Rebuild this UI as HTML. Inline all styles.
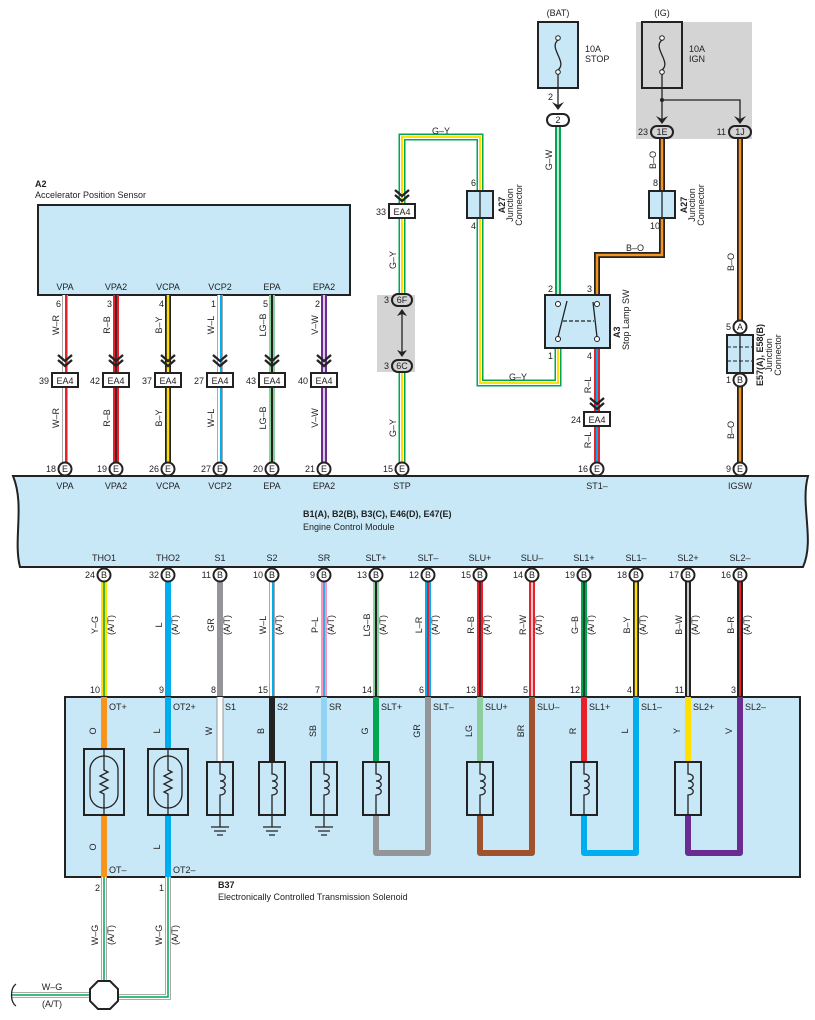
<!DOCTYPE html>
<html><head><meta charset="utf-8">
<style>
html,body{margin:0;padding:0;background:#fff}
svg{display:block}
text{font-family:"Liberation Sans",sans-serif;font-size:9px;fill:#222}
.b{font-weight:bold}
.m{text-anchor:middle}
.e{text-anchor:end}
.box{fill:#c8e8f8;stroke:#222;stroke-width:2}
.ln{fill:none;stroke:#222;stroke-width:1.3}
.w{fill:none;stroke-linejoin:miter}
</style></head><body>
<svg width="815" height="1020" viewBox="0 0 815 1020" xmlns="http://www.w3.org/2000/svg">
<!-- gray regions -->
<rect x="636" y="22" width="116" height="117" fill="#d4d4d4"/>
<rect x="377" y="295" width="38" height="77" fill="#d4d4d4"/>

<!-- A2 -->
<text x="35" y="187" class="b">A2</text>
<text x="35" y="198">Accelerator Position Sensor</text>
<rect x="38" y="205" width="312" height="90" class="box"/>

<!-- top column wires -->
<g class="w">
<path d="M65,295V469" stroke="#aaa" stroke-width="6"/><path d="M65,295V469" stroke="#fff" stroke-width="4"/><path d="M66,295V469" stroke="#e8202a" stroke-width="2"/>
<path d="M116,295V469" stroke="#e8202a" stroke-width="6"/><path d="M116,295V469" stroke="#222" stroke-width="1.5"/>
<path d="M168,295V469" stroke="#222" stroke-width="6"/><path d="M168,295V469" stroke="#ffe000" stroke-width="2.5"/>
<path d="M220,295V469" stroke="#aaa" stroke-width="6"/><path d="M220,295V469" stroke="#fff" stroke-width="4"/><path d="M221,295V469" stroke="#00aeef" stroke-width="2"/>
<path d="M272,295V469" stroke="#8ccf9c" stroke-width="6"/><path d="M272,295V469" stroke="#222" stroke-width="2"/>
<path d="M324,295V469" stroke="#6b2c91" stroke-width="6"/><path d="M324,295V469" stroke="#fff" stroke-width="1.5"/>
<!-- G-Y -->
<path d="M558,348V383H480V137H402V295M402,372V469" stroke="#00a651" stroke-width="7"/>
<path d="M558,348V383H480V137H402V295M402,372V469" stroke="#fff" stroke-width="4"/>
<path d="M558,348V383H480V137H402V295M402,372V469" stroke="#ffe000" stroke-width="2"/>
<!-- G-W -->
<path d="M558,126V295" stroke="#00a651" stroke-width="6"/><path d="M558,126V295" stroke="#fff" stroke-width="1.5"/>
<!-- B-O -->
<path d="M662,138V255H597V295" stroke="#222" stroke-width="6"/><path d="M662,138V255H597V295" stroke="#f7941d" stroke-width="2.5"/>
<path d="M740,138V469" stroke="#222" stroke-width="6"/><path d="M740,138V469" stroke="#f7941d" stroke-width="2.5"/>
<!-- R-L -->
<path d="M597,348V469" stroke="#e8202a" stroke-width="6"/><path d="M597,348V469" stroke="#00aeef" stroke-width="2"/>
</g>

<!-- top labels on A2 -->
<g class="m">
<text x="65" y="290">VPA</text><text x="116" y="290">VPA2</text><text x="168" y="290">VCPA</text><text x="220" y="290">VCP2</text><text x="272" y="290">EPA</text><text x="324" y="290">EPA2</text>
</g>
<g class="e">
<text x="61" y="307">6</text><text x="112" y="307">3</text><text x="164" y="307">4</text><text x="216" y="307">1</text><text x="268" y="307">5</text><text x="320" y="307">2</text>
</g>
<g class="m">
<text transform="translate(59,325) rotate(-90)">W–R</text>
<text transform="translate(110,325) rotate(-90)">R–B</text>
<text transform="translate(162,325) rotate(-90)">B–Y</text>
<text transform="translate(214,325) rotate(-90)">W–L</text>
<text transform="translate(266,325) rotate(-90)">LG–B</text>
<text transform="translate(318,325) rotate(-90)">V–W</text>
<text transform="translate(59,418) rotate(-90)">W–R</text>
<text transform="translate(110,418) rotate(-90)">R–B</text>
<text transform="translate(162,418) rotate(-90)">B–Y</text>
<text transform="translate(214,418) rotate(-90)">W–L</text>
<text transform="translate(266,418) rotate(-90)">LG–B</text>
<text transform="translate(318,418) rotate(-90)">V–W</text>
<text transform="translate(396,260) rotate(-90)">G–Y</text>
<text transform="translate(396,428) rotate(-90)">G–Y</text>
<text transform="translate(552,160) rotate(-90)">G–W</text>
<text transform="translate(656,160) rotate(-90)">B–O</text>
<text transform="translate(734,262) rotate(-90)">B–O</text>
<text transform="translate(734,430) rotate(-90)">B–O</text>
<text transform="translate(591,385) rotate(-90)">R–L</text>
<text transform="translate(591,440) rotate(-90)">R–L</text>
</g>
<text x="441" y="134" class="m">G–Y</text>
<text x="518" y="380" class="m">G–Y</text>
<text x="635" y="251" class="m">B–O</text>

<!-- chevrons -->
<g fill="none" stroke="#222" stroke-width="2.3">
<path d="M58,355l7,6l7,-6M58,360l7,6l7,-6"/>
<path d="M109,355l7,6l7,-6M109,360l7,6l7,-6"/>
<path d="M161,355l7,6l7,-6M161,360l7,6l7,-6"/>
<path d="M213,355l7,6l7,-6M213,360l7,6l7,-6"/>
<path d="M265,355l7,6l7,-6M265,360l7,6l7,-6"/>
<path d="M317,355l7,6l7,-6M317,360l7,6l7,-6"/>
<path d="M395,190l7,6l7,-6M395,195l7,6l7,-6"/>
<path d="M590,398l7,6l7,-6M590,403l7,6l7,-6"/>
</g>
<!-- EA4 boxes -->
<g>
<rect x="52" y="373" width="26" height="14" fill="#fff" stroke="#222" stroke-width="2"/>
<rect x="103" y="373" width="26" height="14" fill="#fff" stroke="#222" stroke-width="2"/>
<rect x="155" y="373" width="26" height="14" fill="#fff" stroke="#222" stroke-width="2"/>
<rect x="207" y="373" width="26" height="14" fill="#fff" stroke="#222" stroke-width="2"/>
<rect x="259" y="373" width="26" height="14" fill="#fff" stroke="#222" stroke-width="2"/>
<rect x="311" y="373" width="26" height="14" fill="#fff" stroke="#222" stroke-width="2"/>
<rect x="389" y="204" width="26" height="14" fill="#fff" stroke="#222" stroke-width="2"/>
<rect x="584" y="412" width="26" height="14" fill="#fff" stroke="#222" stroke-width="2"/>
</g>
<g class="m">
<text x="65" y="384">EA4</text><text x="116" y="384">EA4</text><text x="168" y="384">EA4</text><text x="220" y="384">EA4</text><text x="272" y="384">EA4</text><text x="324" y="384">EA4</text>
<text x="402" y="215">EA4</text><text x="597" y="423">EA4</text>
</g>
<g class="e">
<text x="49" y="384">39</text><text x="100" y="384">42</text><text x="152" y="384">37</text><text x="204" y="384">27</text><text x="256" y="384">43</text><text x="308" y="384">40</text>
<text x="386" y="215">33</text><text x="581" y="423">24</text>
</g>

<!-- 6F 6C -->
<rect x="392" y="294" width="20" height="12" rx="6" fill="#d4d4d4" stroke="#222" stroke-width="2"/>
<rect x="392" y="360" width="20" height="12" rx="6" fill="#d4d4d4" stroke="#222" stroke-width="2"/>
<text x="402" y="303" class="m">6F</text><text x="402" y="369" class="m">6C</text>
<text x="389" y="303" class="e">3</text><text x="389" y="369" class="e">3</text>
<path d="M402,312V354" stroke="#222" stroke-width="1.3"/>
<path d="M397,316l5,-7l5,7l-5,-2z M397,350l5,7l5,-7l-5,2z" fill="#222"/>

<!-- A27 junctions -->
<rect x="467" y="191" width="26" height="27" class="box"/><path d="M480,191V218" class="ln"/>
<rect x="649" y="191" width="26" height="27" class="box"/><path d="M662,191V218" class="ln"/>
<text x="476" y="186" class="e">6</text><text x="476" y="229" class="e">4</text>
<text x="658" y="186" class="e">8</text><text x="660" y="229" class="e">10</text>
<text transform="translate(505,205) rotate(-90)" class="m b">A27</text>
<text transform="translate(513,205) rotate(-90)" class="m">Junction</text>
<text transform="translate(522,205) rotate(-90)" class="m">Connector</text>
<text transform="translate(687,205) rotate(-90)" class="m b">A27</text>
<text transform="translate(695,205) rotate(-90)" class="m">Junction</text>
<text transform="translate(704,205) rotate(-90)" class="m">Connector</text>

<!-- BAT fuse -->
<text x="558" y="16" class="m">(BAT)</text>
<rect x="538" y="22" width="40" height="66" class="box"/>
<circle cx="558" cy="38" r="2.3" fill="#fff" stroke="#222"/><circle cx="558" cy="72" r="2.3" fill="#fff" stroke="#222"/>
<path d="M558,40C548,48 568,62 558,70" class="ln"/>
<path d="M558,74V108" class="ln"/>
<path d="M552,102l6,8l6,-8l-6,3z" fill="#222"/>
<text x="585" y="52">10A</text><text x="585" y="62">STOP</text>
<text x="553" y="100" class="e">2</text>
<rect x="547" y="114" width="22" height="12" rx="6" fill="#fff" stroke="#222" stroke-width="2"/>
<text x="558" y="123" class="m">2</text>

<!-- IG fuse -->
<text x="662" y="16" class="m">(IG)</text>
<rect x="642" y="22" width="40" height="66" fill="#d4d4d4" stroke="#222" stroke-width="2"/>
<circle cx="662" cy="38" r="2.3" fill="#fff" stroke="#222"/><circle cx="662" cy="72" r="2.3" fill="#fff" stroke="#222"/>
<path d="M662,40C652,48 672,62 662,70" class="ln"/>
<path d="M662,74V122M662,100H740V122" class="ln"/>
<circle cx="662" cy="100" r="2" fill="#222"/>
<path d="M656,116l6,8l6,-8l-6,3z M734,116l6,8l6,-8l-6,3z" fill="#222"/>
<text x="689" y="52">10A</text><text x="689" y="62">IGN</text>
<rect x="651" y="126" width="22" height="12" rx="6" fill="#d4d4d4" stroke="#222" stroke-width="2"/>
<rect x="729" y="126" width="22" height="12" rx="6" fill="#d4d4d4" stroke="#222" stroke-width="2"/>
<text x="662" y="135" class="m">1E</text><text x="740" y="135" class="m">1J</text>
<text x="648" y="135" class="e">23</text><text x="726" y="135" class="e">11</text>

<!-- Stop lamp switch -->
<rect x="545" y="295" width="65" height="53" class="box"/>
<circle cx="558" cy="304" r="2.5" fill="#fff" stroke="#222"/><circle cx="558" cy="339" r="2.5" fill="#fff" stroke="#222"/>
<circle cx="597" cy="304" r="2.5" fill="#fff" stroke="#222"/><circle cx="597" cy="339" r="2.5" fill="#fff" stroke="#222"/>
<path d="M558,337L567,301M597,337L593,302" class="ln"/>
<path d="M563,321H594" stroke="#222" stroke-width="1.2" stroke-dasharray="4,2"/>
<text x="553" y="292" class="e">2</text><text x="592" y="292" class="e">3</text>
<text x="553" y="359" class="e">1</text><text x="592" y="359" class="e">4</text>
<text transform="translate(620,338) rotate(-90)" class="b">A3</text>
<text transform="translate(629,350) rotate(-90)">Stop Lamp SW</text>

<!-- E57 -->
<rect x="727" y="335" width="26" height="38" class="box"/>
<path d="M740,335V373" class="ln"/>
<path d="M727,347H753M727,361H753" stroke="#222" stroke-width="1" stroke-dasharray="4,2"/>
<circle cx="740" cy="327" r="6.5" fill="#fff" stroke="#222" stroke-width="2"/><text x="740" y="330" class="m">A</text>
<circle cx="740" cy="380" r="6.5" fill="#fff" stroke="#222" stroke-width="2"/><text x="740" y="383" class="m">B</text>
<text x="731" y="330" class="e">5</text><text x="731" y="383" class="e">1</text>
<text transform="translate(763,355) rotate(-90)" class="m b">E57(A), E58(B)</text>
<text transform="translate(772,355) rotate(-90)" class="m">Junction</text>
<text transform="translate(781,355) rotate(-90)" class="m">Connector</text>

<!-- bottom column wires (ECM to B37) -->
<g class="w">
<path d="M104,575V697" stroke="#ffe000" stroke-width="6"/><path d="M104,575V697" stroke="#00a651" stroke-width="1.5"/>
<path d="M168,575V697" stroke="#00aeef" stroke-width="6"/>
<path d="M220,575V697" stroke="#939598" stroke-width="6"/>
<path d="M272,575V697" stroke="#aaa" stroke-width="6"/><path d="M272,575V697" stroke="#fff" stroke-width="4"/><path d="M273,575V697" stroke="#00aeef" stroke-width="2"/>
<path d="M324,575V697" stroke="#f49ac1" stroke-width="6"/><path d="M324,575V697" stroke="#00aeef" stroke-width="1.5"/>
<path d="M376,575V697" stroke="#8ccf9c" stroke-width="6"/><path d="M376,575V697" stroke="#222" stroke-width="2"/>
<path d="M428,575V697" stroke="#00aeef" stroke-width="6"/><path d="M428,575V697" stroke="#e8202a" stroke-width="2"/>
<path d="M480,575V697" stroke="#e8202a" stroke-width="6"/><path d="M480,575V697" stroke="#222" stroke-width="1.5"/>
<path d="M532,575V697" stroke="#e8202a" stroke-width="6"/><path d="M532,575V697" stroke="#fff" stroke-width="1.5"/>
<path d="M584,575V697" stroke="#00a651" stroke-width="6"/><path d="M584,575V697" stroke="#222" stroke-width="1.5"/>
<path d="M636,575V697" stroke="#222" stroke-width="6"/><path d="M636,575V697" stroke="#ffe000" stroke-width="2.5"/>
<path d="M688,575V697" stroke="#222" stroke-width="6"/><path d="M688,575V697" stroke="#fff" stroke-width="1.5"/>
<path d="M740,575V697" stroke="#222" stroke-width="6"/><path d="M740,575V697" stroke="#e8202a" stroke-width="2"/>
</g>

<!-- ECM -->
<path d="M13,476H808C800,505 815,540 803,567H20C13,540 25,505 13,476Z" class="box"/>
<g class="m">
<text x="65" y="489">VPA</text><text x="116" y="489">VPA2</text><text x="168" y="489">VCPA</text><text x="220" y="489">VCP2</text><text x="272" y="489">EPA</text><text x="324" y="489">EPA2</text><text x="402" y="489">STP</text><text x="597" y="489">ST1–</text><text x="740" y="489">IGSW</text>
<text x="104" y="561">THO1</text><text x="168" y="561">THO2</text><text x="220" y="561">S1</text><text x="272" y="561">S2</text><text x="324" y="561">SR</text><text x="376" y="561">SLT+</text><text x="428" y="561">SLT–</text><text x="480" y="561">SLU+</text><text x="532" y="561">SLU–</text><text x="584" y="561">SL1+</text><text x="636" y="561">SL1–</text><text x="688" y="561">SL2+</text><text x="740" y="561">SL2–</text>
</g>
<text x="303" y="517" class="b">B1(A), B2(B), B3(C), E46(D), E47(E)</text>
<text x="303" y="530">Engine Control Module</text>

<!-- E pins -->
<g fill="#fff" stroke="#222" stroke-width="2">
<circle cx="65" cy="469" r="6.5"/><circle cx="116" cy="469" r="6.5"/><circle cx="168" cy="469" r="6.5"/><circle cx="220" cy="469" r="6.5"/><circle cx="272" cy="469" r="6.5"/><circle cx="324" cy="469" r="6.5"/><circle cx="402" cy="469" r="6.5"/><circle cx="597" cy="469" r="6.5"/><circle cx="740" cy="469" r="6.5"/>
</g>
<g class="m">
<text x="65" y="472">E</text><text x="116" y="472">E</text><text x="168" y="472">E</text><text x="220" y="472">E</text><text x="272" y="472">E</text><text x="324" y="472">E</text><text x="402" y="472">E</text><text x="597" y="472">E</text><text x="740" y="472">E</text>
</g>
<g class="e">
<text x="56" y="472">18</text><text x="107" y="472">19</text><text x="159" y="472">26</text><text x="211" y="472">27</text><text x="263" y="472">20</text><text x="315" y="472">21</text><text x="393" y="472">15</text><text x="588" y="472">16</text><text x="731" y="472">9</text>
</g>

<!-- B pins -->
<g fill="#fff" stroke="#222" stroke-width="2">
<circle cx="104" cy="575" r="6.5"/><circle cx="168" cy="575" r="6.5"/><circle cx="220" cy="575" r="6.5"/><circle cx="272" cy="575" r="6.5"/><circle cx="324" cy="575" r="6.5"/><circle cx="376" cy="575" r="6.5"/><circle cx="428" cy="575" r="6.5"/><circle cx="480" cy="575" r="6.5"/><circle cx="532" cy="575" r="6.5"/><circle cx="584" cy="575" r="6.5"/><circle cx="636" cy="575" r="6.5"/><circle cx="688" cy="575" r="6.5"/><circle cx="740" cy="575" r="6.5"/>
</g>
<g class="m">
<text x="104" y="578">B</text><text x="168" y="578">B</text><text x="220" y="578">B</text><text x="272" y="578">B</text><text x="324" y="578">B</text><text x="376" y="578">B</text><text x="428" y="578">B</text><text x="480" y="578">B</text><text x="532" y="578">B</text><text x="584" y="578">B</text><text x="636" y="578">B</text><text x="688" y="578">B</text><text x="740" y="578">B</text>
</g>
<g class="e">
<text x="95" y="578">24</text><text x="159" y="578">32</text><text x="211" y="578">11</text><text x="263" y="578">10</text><text x="315" y="578">9</text><text x="367" y="578">13</text><text x="419" y="578">12</text><text x="471" y="578">15</text><text x="523" y="578">14</text><text x="575" y="578">19</text><text x="627" y="578">18</text><text x="679" y="578">17</text><text x="731" y="578">16</text>
<text x="100" y="693">10</text><text x="164" y="693">9</text><text x="216" y="693">8</text><text x="268" y="693">15</text><text x="320" y="693">7</text><text x="372" y="693">14</text><text x="424" y="693">6</text><text x="476" y="693">13</text><text x="528" y="693">5</text><text x="580" y="693">12</text><text x="632" y="693">4</text><text x="684" y="693">11</text><text x="736" y="693">3</text>
</g>
<!-- rotated wire labels bottom -->
<g class="m">
<text transform="translate(98,625) rotate(-90)">Y–G</text><text transform="translate(114,625) rotate(-90)">(A/T)</text>
<text transform="translate(162,625) rotate(-90)">L</text><text transform="translate(178,625) rotate(-90)">(A/T)</text>
<text transform="translate(214,625) rotate(-90)">GR</text><text transform="translate(230,625) rotate(-90)">(A/T)</text>
<text transform="translate(266,625) rotate(-90)">W–L</text><text transform="translate(282,625) rotate(-90)">(A/T)</text>
<text transform="translate(318,625) rotate(-90)">P–L</text><text transform="translate(334,625) rotate(-90)">(A/T)</text>
<text transform="translate(370,625) rotate(-90)">LG–B</text><text transform="translate(386,625) rotate(-90)">(A/T)</text>
<text transform="translate(422,625) rotate(-90)">L–R</text><text transform="translate(438,625) rotate(-90)">(A/T)</text>
<text transform="translate(474,625) rotate(-90)">R–B</text><text transform="translate(490,625) rotate(-90)">(A/T)</text>
<text transform="translate(526,625) rotate(-90)">R–W</text><text transform="translate(542,625) rotate(-90)">(A/T)</text>
<text transform="translate(578,625) rotate(-90)">G–B</text><text transform="translate(594,625) rotate(-90)">(A/T)</text>
<text transform="translate(630,625) rotate(-90)">B–Y</text><text transform="translate(646,625) rotate(-90)">(A/T)</text>
<text transform="translate(682,625) rotate(-90)">B–W</text><text transform="translate(698,625) rotate(-90)">(A/T)</text>
<text transform="translate(734,625) rotate(-90)">B–R</text><text transform="translate(750,625) rotate(-90)">(A/T)</text>
</g>

<!-- B37 box -->
<rect x="65" y="697" width="735" height="180" class="box"/>
<g class="w" stroke-width="6">
<path d="M104,697V877" stroke="#f7941d"/>
<path d="M168,697V877" stroke="#00aeef"/>
<path d="M220,697V762" stroke="#fff"/><path d="M217,697V762" stroke="#999" stroke-width="1"/><path d="M223,697V762" stroke="#999" stroke-width="1"/>
<path d="M272,697V762" stroke="#222"/>
<path d="M324,697V762" stroke="#8fd3f5"/>
<path d="M376,697V762" stroke="#00a651"/>
<path d="M376,815V853H428V697" stroke="#939598" stroke-linejoin="round"/>
<path d="M480,697V762" stroke="#8ccf9c"/>
<path d="M480,815V853H532V697" stroke="#a0522d" stroke-linejoin="round"/>
<path d="M584,697V762" stroke="#e8202a"/>
<path d="M584,815V853H636V697" stroke="#00aeef" stroke-linejoin="round"/>
<path d="M688,697V762" stroke="#ffe000"/>
<path d="M688,815V853H740V697" stroke="#6b2c91" stroke-linejoin="round"/>
</g>
<g>
<text x="109" y="710">OT+</text><text x="173" y="710">OT2+</text><text x="225" y="710">S1</text><text x="277" y="710">S2</text><text x="329" y="710">SR</text><text x="381" y="710">SLT+</text><text x="433" y="710">SLT–</text><text x="485" y="710">SLU+</text><text x="537" y="710">SLU–</text><text x="589" y="710">SL1+</text><text x="641" y="710">SL1–</text><text x="693" y="710">SL2+</text><text x="745" y="710">SL2–</text>
<text x="109" y="873">OT–</text><text x="173" y="873">OT2–</text>
</g>
<g class="m">
<text transform="translate(96,731) rotate(-90)">O</text><text transform="translate(160,731) rotate(-90)">L</text><text transform="translate(212,731) rotate(-90)">W</text><text transform="translate(264,731) rotate(-90)">B</text><text transform="translate(316,731) rotate(-90)">SB</text><text transform="translate(368,731) rotate(-90)">G</text><text transform="translate(420,731) rotate(-90)">GR</text><text transform="translate(472,731) rotate(-90)">LG</text><text transform="translate(524,731) rotate(-90)">BR</text><text transform="translate(576,731) rotate(-90)">R</text><text transform="translate(628,731) rotate(-90)">L</text><text transform="translate(680,731) rotate(-90)">Y</text><text transform="translate(732,731) rotate(-90)">V</text>
<text transform="translate(96,847) rotate(-90)">O</text><text transform="translate(160,847) rotate(-90)">L</text>
</g>

<!-- thermistors -->
<g>
<rect x="84" y="749" width="40" height="66" class="box"/>
<rect x="90" y="756" width="28" height="52" rx="14" fill="none" stroke="#222" stroke-width="1.3"/>
<path d="M104,749V770l4,2l-8,4l8,4l-8,4l8,4l-8,4l4,2V815" class="ln"/>
<rect x="148" y="749" width="40" height="66" class="box"/>
<rect x="154" y="756" width="28" height="52" rx="14" fill="none" stroke="#222" stroke-width="1.3"/>
<path d="M168,749V770l4,2l-8,4l8,4l-8,4l8,4l-8,4l4,2V815" class="ln"/>
</g>
<!-- solenoids -->
<g>
<rect x="207" y="762" width="26" height="53" class="box"/><path d="M220,762V774c7,0 7,7 0,7c7,0 7,7 0,7c7,0 7,7 0,7V815" class="ln"/>
<rect x="259" y="762" width="26" height="53" class="box"/><path d="M272,762V774c7,0 7,7 0,7c7,0 7,7 0,7c7,0 7,7 0,7V815" class="ln"/>
<rect x="311" y="762" width="26" height="53" class="box"/><path d="M324,762V774c7,0 7,7 0,7c7,0 7,7 0,7c7,0 7,7 0,7V815" class="ln"/>
<rect x="363" y="762" width="26" height="53" class="box"/><path d="M376,762V774c7,0 7,7 0,7c7,0 7,7 0,7c7,0 7,7 0,7V815" class="ln"/>
<rect x="467" y="762" width="26" height="53" class="box"/><path d="M480,762V774c7,0 7,7 0,7c7,0 7,7 0,7c7,0 7,7 0,7V815" class="ln"/>
<rect x="571" y="762" width="26" height="53" class="box"/><path d="M584,762V774c7,0 7,7 0,7c7,0 7,7 0,7c7,0 7,7 0,7V815" class="ln"/>
<rect x="675" y="762" width="26" height="53" class="box"/><path d="M688,762V774c7,0 7,7 0,7c7,0 7,7 0,7c7,0 7,7 0,7V815" class="ln"/>
</g>
<!-- grounds -->
<g class="ln">
<path d="M220,815V827M211,827H229M214,831H226M217,835H223"/>
<path d="M272,815V827M263,827H281M266,831H278M269,835H275"/>
<path d="M324,815V827M315,827H333M318,831H330M321,835H327"/>
</g>

<text x="218" y="888" class="b">B37</text>
<text x="218" y="900">Electronically Controlled Transmission Solenoid</text>
<text x="100" y="891" class="e">2</text><text x="164" y="891" class="e">1</text>
<!-- W-G bottom -->
<g class="w">
<path d="M104,877V995M168,877V997H104M12,995H104" stroke="#aaa" stroke-width="6"/>
<path d="M104,877V995M168,877V997H104M12,995H104" stroke="#fff" stroke-width="4"/>
<path d="M104,877V995M168,877V997H104M12,995H104" stroke="#00a651" stroke-width="1.5"/>
</g>
<polygon points="98,981 110,981 118,989 118,1001 110,1009 98,1009 90,1001 90,989" fill="#fff" stroke="#222" stroke-width="2"/>
<path d="M16,984c-6,4 -6,18 0,22" class="ln" stroke-width="1.6"/>
<g class="m">
<text transform="translate(98,935) rotate(-90)">W–G</text><text transform="translate(114,935) rotate(-90)">(A/T)</text>
<text transform="translate(162,935) rotate(-90)">W–G</text><text transform="translate(178,935) rotate(-90)">(A/T)</text>
<text x="52" y="990">W–G</text><text x="52" y="1007">(A/T)</text>
</g>
</svg>
</body></html>
